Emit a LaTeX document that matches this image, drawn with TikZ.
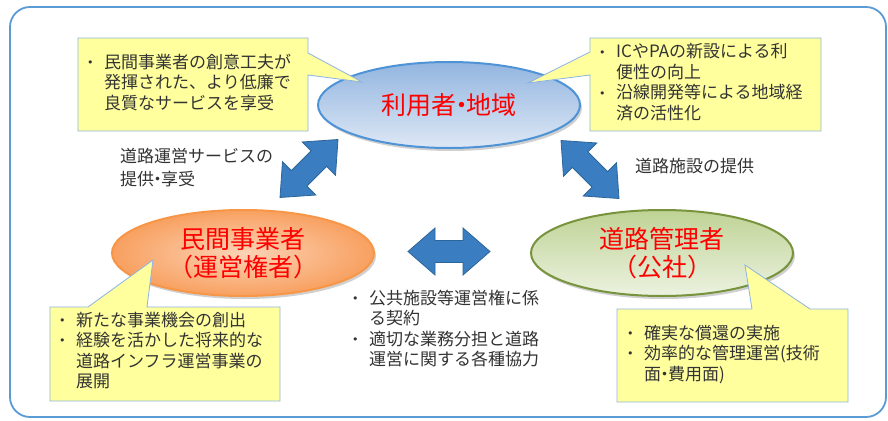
\documentclass[tikz,border=0pt]{standalone}
\usepackage{fontspec}
\setmainfont{Noto Sans CJK JP}
\newfontfamily\djv{DejaVu Sans}
\usetikzlibrary{shapes.geometric,shadows}
\definecolor{framec}{HTML}{5B9BD5}
\definecolor{bluetop}{HTML}{93B5E0}
\definecolor{bluebot}{HTML}{DDE8F5}
\definecolor{blueedge}{HTML}{4E93D6}
\definecolor{orin}{HTML}{FCD3B6}
\definecolor{orout}{HTML}{F8A060}
\definecolor{oredge}{HTML}{F79646}
\definecolor{grtop}{HTML}{BFD395}
\definecolor{grbot}{HTML}{ECF2E0}
\definecolor{gredge}{HTML}{77933C}
\definecolor{arrowc}{HTML}{3A7DC0}
\definecolor{arrowedge}{HTML}{2C6599}
\definecolor{notefill}{HTML}{FFFF9E}
\definecolor{noteedge}{HTML}{8DB3E2}
\definecolor{textc}{HTML}{333333}
\newcommand{\bul}{\makebox[17pt][l]{\raisebox{1.8pt}{\djv\fontsize{11}{11}\selectfont •}}}
\newcommand{\ind}{\hspace*{17pt}}
\newcommand{\md}{\makebox[0.4em][c]{・}}
\begin{document}
\begin{tikzpicture}[x=1pt,y=-1pt,
  ell/.style={ellipse, minimum width=262pt, minimum height=86pt, line width=2pt,
    text=red, font=\fontsize{25}{28}\selectfont, align=center, inner sep=0pt,
    drop shadow={shadow xshift=2pt, shadow yshift=-3pt, opacity=0.3, fill=black!60}},
  notebox/.style={fill=notefill, draw=noteedge, line width=0.8pt, line join=miter},
  txt/.style={align=left, inner sep=0pt, font=\fontsize{17}{20.5}\selectfont, text=textc},
  dblarrow/.style={fill=arrowc, draw=arrowedge, line width=0.8pt, line join=miter},
  dbl/.pic={\path[dblarrow] (-41,0) -- (-14,-23.5) -- (-14,-11) -- (14,-11) -- (14,-23.5)
     -- (41,0) -- (14,23.5) -- (14,11) -- (-14,11) -- (-14,23.5) -- cycle;}
]
\useasboundingbox (0,0) rectangle (888,420);
\fill[white] (0,0) rectangle (888,420);
\draw[framec, line width=1.8pt, rounded corners=20pt] (10,7) rectangle (886,417);

% ellipses
\node[ell, top color=bluetop, bottom color=bluebot, draw=blueedge] (user) at (449,105) {利用者\md 地域};
\node[ell, shading=radial, inner color=orin, outer color=orout, draw=oredge] (oper) at (243,253) {民間事業者\\（運営権者）};
\node[ell, top color=grtop, bottom color=grbot, draw=gredge] (mgr) at (662,253) {道路管理者\\（公社）};

% block arrows
\pic[rotate=45] at (309,168.5) {dbl};
\pic[rotate=-45] at (590,169.5) {dbl};
\pic at (449,251.5) {dbl};

% callouts
\path[notebox] (78,38) -- (308,38) -- (308,53) -- (362,82) -- (308,75) -- (308,131) -- (78,131) -- cycle;
\path[notebox] (590,38) -- (821,38) -- (821,131) -- (590,131) -- (590,75) -- (528,83) -- (590,52) -- cycle;
\path[notebox] (50,307) -- (88,307) -- (153,260) -- (147,307) -- (280,307) -- (280,401) -- (50,401) -- cycle;
\path[notebox] (617,309) -- (752,309) -- (745,265) -- (810,309) -- (848,309) -- (848,402) -- (617,402) -- cycle;

% texts
\node[txt, anchor=north west] (tltext) at (87,53.5) {\bul 民間事業者の創意工夫が\\ \ind 発揮された、より低廉で\\ \ind 良質なサービスを享受};
\node[txt, anchor=north west] (trtext) at (599,43.5) {\bul ICやPAの新設による利\\ \ind 便性の向上\\ \bul 沿線開発等による地域経\\ \ind 済の活性化};
\node[txt, anchor=north west] (bltext) at (59,311.5) {\bul 新たな事業機会の創出\\ \bul 経験を活かした将来的な\\ \ind 道路インフラ運営事業の\\ \ind 展開};
\node[txt, anchor=north west] (brtext) at (627,324.5) {\bul 確実な償還の実施\\ \bul 効率的な管理運営(技術\\ \ind 面\md 費用面)};
\node[txt, anchor=north west] (ctext) at (352,289.5) {\bul 公共施設等運営権に係\\ \ind る契約\\ \bul 適切な業務分担と道路\\ \ind 運営に関する各種協力};
\node[txt, anchor=north west, font=\fontsize{17}{23}\selectfont] (lefttext) at (120,147.5) {道路運営サービスの\\提供\md 享受};
\node[txt, anchor=north west] (righttext) at (635,158.5) {道路施設の提供};
\end{tikzpicture}
\end{document}
